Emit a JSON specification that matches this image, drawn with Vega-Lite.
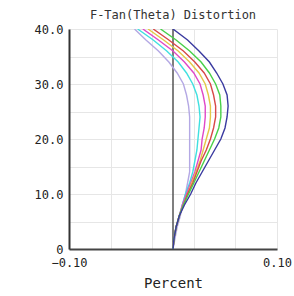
{
  "$schema": "https://vega.github.io/schema/vega-lite/v6.json",
  "autosize": "none",
  "width": 208,
  "height": 220,
  "padding": {"left": 69, "top": 29, "right": 17, "bottom": 47},
  "background": "white",
  "title": {"text": "F-Tan(Theta) Distortion", "font": "DejaVu Sans Mono", "fontSize": 12, "fontWeight": "normal", "color": "#333", "offset": 1, "anchor": "middle"},
  "config": {"view": {"stroke": null}},
  "datasets": {
    "curves": [
      {"c": "1", "y": 0, "x": 0}, {"c": "1", "y": 2, "x": 0.002}, {"c": "1", "y": 4, "x": 0.004}, {"c": "1", "y": 6, "x": 0.007}, {"c": "1", "y": 8, "x": 0.009}, {"c": "1", "y": 10, "x": 0.012}, {"c": "1", "y": 12, "x": 0.014}, {"c": "1", "y": 14, "x": 0.016}, {"c": "1", "y": 16, "x": 0.016}, {"c": "1", "y": 18, "x": 0.016}, {"c": "1", "y": 20, "x": 0.016}, {"c": "1", "y": 22, "x": 0.016}, {"c": "1", "y": 24, "x": 0.016}, {"c": "1", "y": 26, "x": 0.015}, {"c": "1", "y": 28, "x": 0.013}, {"c": "1", "y": 30, "x": 0.010}, {"c": "1", "y": 32, "x": 0.004}, {"c": "1", "y": 34, "x": -0.004}, {"c": "1", "y": 36, "x": -0.014}, {"c": "1", "y": 38, "x": -0.026}, {"c": "1", "y": 40, "x": -0.037},
      {"c": "2", "y": 0, "x": 0}, {"c": "2", "y": 2, "x": 0.001}, {"c": "2", "y": 4, "x": 0.003}, {"c": "2", "y": 6, "x": 0.006}, {"c": "2", "y": 8, "x": 0.009}, {"c": "2", "y": 10, "x": 0.012}, {"c": "2", "y": 12, "x": 0.016}, {"c": "2", "y": 14, "x": 0.019}, {"c": "2", "y": 16, "x": 0.021}, {"c": "2", "y": 18, "x": 0.023}, {"c": "2", "y": 20, "x": 0.024}, {"c": "2", "y": 22, "x": 0.025}, {"c": "2", "y": 24, "x": 0.026}, {"c": "2", "y": 26, "x": 0.025}, {"c": "2", "y": 28, "x": 0.023}, {"c": "2", "y": 30, "x": 0.019}, {"c": "2", "y": 32, "x": 0.013}, {"c": "2", "y": 34, "x": 0.005}, {"c": "2", "y": 36, "x": -0.006}, {"c": "2", "y": 38, "x": -0.019}, {"c": "2", "y": 40, "x": -0.034},
      {"c": "3", "y": 0, "x": 0}, {"c": "3", "y": 2, "x": 0.001}, {"c": "3", "y": 4, "x": 0.003}, {"c": "3", "y": 6, "x": 0.006}, {"c": "3", "y": 8, "x": 0.009}, {"c": "3", "y": 10, "x": 0.013}, {"c": "3", "y": 12, "x": 0.017}, {"c": "3", "y": 14, "x": 0.021}, {"c": "3", "y": 16, "x": 0.024}, {"c": "3", "y": 18, "x": 0.027}, {"c": "3", "y": 20, "x": 0.028}, {"c": "3", "y": 22, "x": 0.030}, {"c": "3", "y": 24, "x": 0.031}, {"c": "3", "y": 26, "x": 0.031}, {"c": "3", "y": 28, "x": 0.029}, {"c": "3", "y": 30, "x": 0.026}, {"c": "3", "y": 32, "x": 0.020}, {"c": "3", "y": 34, "x": 0.011}, {"c": "3", "y": 36, "x": 0.000}, {"c": "3", "y": 38, "x": -0.014}, {"c": "3", "y": 40, "x": -0.029},
      {"c": "4", "y": 0, "x": 0}, {"c": "4", "y": 2, "x": 0.001}, {"c": "4", "y": 4, "x": 0.003}, {"c": "4", "y": 6, "x": 0.006}, {"c": "4", "y": 8, "x": 0.010}, {"c": "4", "y": 10, "x": 0.014}, {"c": "4", "y": 12, "x": 0.018}, {"c": "4", "y": 14, "x": 0.022}, {"c": "4", "y": 16, "x": 0.026}, {"c": "4", "y": 18, "x": 0.029}, {"c": "4", "y": 20, "x": 0.032}, {"c": "4", "y": 22, "x": 0.035}, {"c": "4", "y": 24, "x": 0.036}, {"c": "4", "y": 26, "x": 0.036}, {"c": "4", "y": 28, "x": 0.034}, {"c": "4", "y": 30, "x": 0.031}, {"c": "4", "y": 32, "x": 0.025}, {"c": "4", "y": 34, "x": 0.016}, {"c": "4", "y": 36, "x": 0.005}, {"c": "4", "y": 38, "x": -0.009}, {"c": "4", "y": 40, "x": -0.024},
      {"c": "5", "y": 0, "x": 0}, {"c": "5", "y": 2, "x": 0.001}, {"c": "5", "y": 4, "x": 0.003}, {"c": "5", "y": 6, "x": 0.006}, {"c": "5", "y": 8, "x": 0.010}, {"c": "5", "y": 10, "x": 0.014}, {"c": "5", "y": 12, "x": 0.019}, {"c": "5", "y": 14, "x": 0.023}, {"c": "5", "y": 16, "x": 0.027}, {"c": "5", "y": 18, "x": 0.032}, {"c": "5", "y": 20, "x": 0.036}, {"c": "5", "y": 22, "x": 0.039}, {"c": "5", "y": 24, "x": 0.041}, {"c": "5", "y": 26, "x": 0.041}, {"c": "5", "y": 28, "x": 0.039}, {"c": "5", "y": 30, "x": 0.036}, {"c": "5", "y": 32, "x": 0.030}, {"c": "5", "y": 34, "x": 0.021}, {"c": "5", "y": 36, "x": 0.010}, {"c": "5", "y": 38, "x": -0.004}, {"c": "5", "y": 40, "x": -0.019},
      {"c": "6", "y": 0, "x": 0}, {"c": "6", "y": 2, "x": 0.001}, {"c": "6", "y": 4, "x": 0.003}, {"c": "6", "y": 6, "x": 0.006}, {"c": "6", "y": 8, "x": 0.010}, {"c": "6", "y": 10, "x": 0.015}, {"c": "6", "y": 12, "x": 0.020}, {"c": "6", "y": 14, "x": 0.025}, {"c": "6", "y": 16, "x": 0.030}, {"c": "6", "y": 18, "x": 0.035}, {"c": "6", "y": 20, "x": 0.040}, {"c": "6", "y": 22, "x": 0.044}, {"c": "6", "y": 24, "x": 0.046}, {"c": "6", "y": 26, "x": 0.046}, {"c": "6", "y": 28, "x": 0.045}, {"c": "6", "y": 30, "x": 0.041}, {"c": "6", "y": 32, "x": 0.035}, {"c": "6", "y": 34, "x": 0.027}, {"c": "6", "y": 36, "x": 0.016}, {"c": "6", "y": 38, "x": 0.003}, {"c": "6", "y": 40, "x": -0.012},
      {"c": "7", "y": 0, "x": 0}, {"c": "7", "y": 2, "x": 0.001}, {"c": "7", "y": 4, "x": 0.003}, {"c": "7", "y": 6, "x": 0.006}, {"c": "7", "y": 8, "x": 0.011}, {"c": "7", "y": 10, "x": 0.017}, {"c": "7", "y": 12, "x": 0.022}, {"c": "7", "y": 14, "x": 0.028}, {"c": "7", "y": 16, "x": 0.034}, {"c": "7", "y": 18, "x": 0.040}, {"c": "7", "y": 20, "x": 0.046}, {"c": "7", "y": 22, "x": 0.050}, {"c": "7", "y": 24, "x": 0.052}, {"c": "7", "y": 26, "x": 0.053}, {"c": "7", "y": 28, "x": 0.052}, {"c": "7", "y": 30, "x": 0.048}, {"c": "7", "y": 32, "x": 0.042}, {"c": "7", "y": 34, "x": 0.035}, {"c": "7", "y": 36, "x": 0.025}, {"c": "7", "y": 38, "x": 0.014}, {"c": "7", "y": 40, "x": 0.000}
    ],
    "zero": [{"x": 0}]
  },
  "layer": [
    {
      "data": {"name": "zero"},
      "mark": {"type": "rule", "color": "#555", "strokeWidth": 1.5},
      "encoding": {
        "x": {"field": "x", "type": "quantitative", "scale": {"domain": [-0.1, 0.1], "nice": false, "zero": false},
          "axis": {"values": [-0.1, -0.08, -0.06, -0.04, -0.02, 0, 0.02, 0.04, 0.06, 0.08, 0.1],
            "labelExpr": "abs(datum.value) < 1e-9 ? '0' : (abs(abs(datum.value) - 0.1) < 1e-9 ? format(datum.value, '.2f') : '')",
            "title": "Percent", "titleFont": "DejaVu Sans Mono", "titleFontSize": 14, "titleFontWeight": "normal", "titleColor": "#222", "titlePadding": 8,
            "labelFont": "DejaVu Sans Mono", "labelFontSize": 12, "labelColor": "#222", "labelOverlap": false, "labelPadding": 8, "labelFlush": false,
            "ticks": false, "grid": true, "gridColor": "#e6e6e6", "gridWidth": 1,
            "domainColor": "#444", "domainWidth": 2}}
      }
    },
    {
      "data": {"name": "curves"},
      "mark": {"type": "line", "strokeWidth": 1.4, "clip": true},
      "encoding": {
        "x": {"field": "x", "type": "quantitative"},
        "y": {"field": "y", "type": "quantitative", "scale": {"domain": [0, 40], "nice": false},
          "axis": {"values": [0, 5, 10, 15, 20, 25, 30, 35, 40],
            "labelExpr": "datum.value == 0 ? '0' : (datum.value % 10 == 0 ? format(datum.value, '.1f') : '')",
            "title": null, "labelFont": "DejaVu Sans Mono", "labelFontSize": 12, "labelColor": "#222", "labelPadding": 6,
            "ticks": false, "grid": true, "gridColor": "#e6e6e6", "gridWidth": 1,
            "domainColor": "#333", "domainWidth": 2}},
        "color": {"field": "c", "type": "nominal", "legend": null,
          "scale": {"domain": ["1", "2", "3", "4", "5", "6", "7"], "range": ["#b4a8e4", "#3fe0e0", "#e048c8", "#e4c848", "#d84848", "#48d048", "#3a3aa0"]}},
        "order": {"field": "y", "type": "quantitative"}
      }
    }
  ]
}
